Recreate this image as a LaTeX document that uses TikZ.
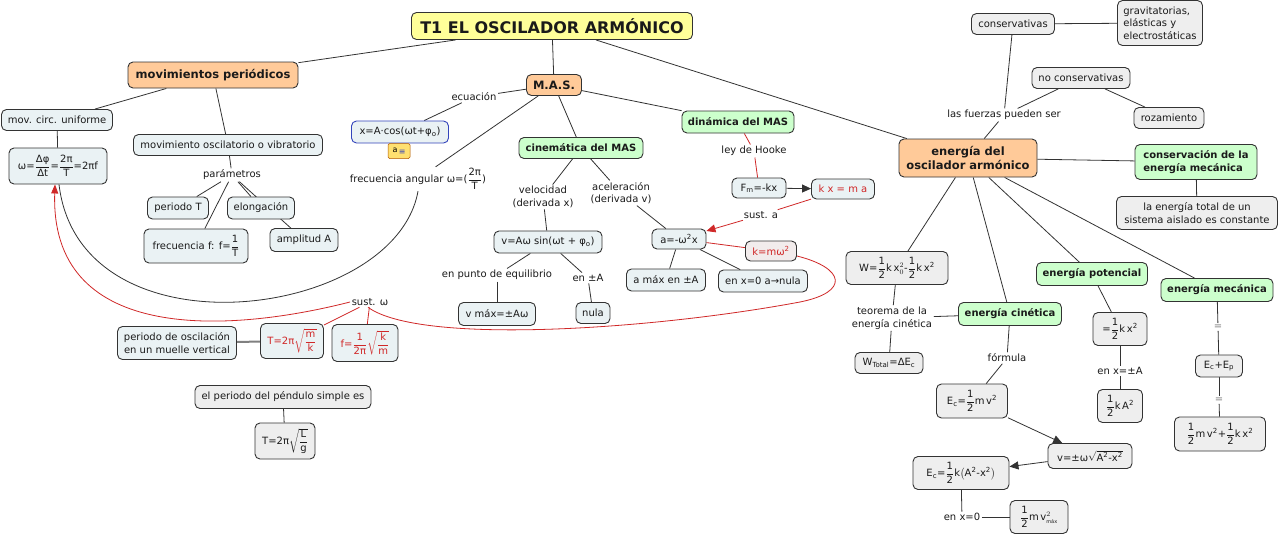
\documentclass[tikz,border=0pt]{standalone}
\usepackage{fontspec}
\setmainfont{DejaVu Sans}
\usetikzlibrary{arrows.meta,backgrounds}
\definecolor{yel}{HTML}{FFFF99}
\definecolor{org}{HTML}{FFCA99}
\definecolor{grn}{HTML}{CCFFCC}
\definecolor{blu}{HTML}{EAF2F4}
\definecolor{gry}{HTML}{EEEEEE}
\definecolor{pnk}{HTML}{F2ECEC}
\definecolor{redc}{HTML}{D02828}
\definecolor{bordc}{HTML}{333333}
\definecolor{linec}{HTML}{333333}
\definecolor{bluc}{HTML}{3344BB}
\definecolor{txt}{HTML}{1A1A1A}
\definecolor{noteY}{HTML}{FFE070}
\newcommand{\fr}[2]{$\displaystyle\frac{\hbox{#1}}{\hbox{#2}}$}
\newcommand{\sfr}[2]{$\sqrt{\displaystyle\frac{\hbox{#1}}{\hbox{#2}}}$}
\tikzset{
 box/.style={draw=bordc, line width=0.9pt, rounded corners=5pt, inner sep=0pt, align=center, font=\fontsize{10}{12.5}\selectfont, text=txt},
 bl/.style={box, fill=blu},
 gr/.style={box, fill=gry},
 og/.style={box, fill=org, font=\bfseries\fontsize{11.5}{14}\selectfont},
 gn/.style={box, fill=grn, font=\bfseries\fontsize{10}{12.5}\selectfont},
 lab/.style={inner sep=1.5pt, align=center, font=\fontsize{10}{12.5}\selectfont, text=txt},
 fm/.style={font=\fontsize{10}{12}\selectfont},
 ln/.style={draw=linec, line width=0.8pt},
 rl/.style={draw=redc, line width=0.8pt},
 arr/.style={-{Triangle[length=9pt,width=8pt]}},
}
\begin{document}
\begin{tikzpicture}[x=1pt,y=-1pt]
\useasboundingbox (0,0) rectangle (1280,536);
% title
\node[box, fill=yel, font=\bfseries\fontsize{16}{18}\selectfont, minimum width=281, minimum height=27] (t) at (552,26) {T1 EL OSCILADOR ARMÓNICO};
% left branch
\node[og, minimum width=170, minimum height=26] (mp) at (213,75) {movimientos periódicos};
\node[bl, minimum width=111, minimum height=21] (mcu) at (57,120) {mov. circ. uniforme};
\node[bl, fm, minimum width=98, minimum height=36] (w) at (58,166) {ω=\fr{Δφ}{Δt}=\fr{2π}{T}=2πf};
\node[bl, minimum width=189, minimum height=21] (mov) at (228,145) {movimiento oscilatorio o vibratorio};
\node[lab] (par) at (232,175) {parámetros};
\node[bl, minimum width=61, minimum height=22] (pT) at (178,208) {periodo T};
\node[bl, minimum width=67, minimum height=22] (elo) at (261,208) {elongación};
\node[bl, minimum width=104, minimum height=34] (ff) at (196,246) {frecuencia f: f=\fr{1}{T}};
\node[bl, minimum width=68, minimum height=23] (amp) at (304,240) {amplitud A};
% MAS
\node[og, minimum width=55, minimum height=21] (mas) at (554,85) {M.A.S.};
\node[lab] (ec) at (474,97) {ecuación};
\node[box, fill=blu, draw=bluc, minimum width=97, minimum height=22] (xeq) at (400,132) {x=A·cos(ωt+φ\textsubscript{o})};
\node[fill=noteY, draw=orange!70!black, line width=0.5pt, rounded corners=1.5pt, minimum width=22, minimum height=15, inner sep=0pt, font=\fontsize{8}{8}\selectfont] (note) at (399,151) {\raisebox{2pt}{a}\,\textcolor{bluc}{≡}};
\node[lab] (fa) at (418,179) {frecuencia angular ω=(\fr{2π}{T})};
\node[gn, minimum width=124, minimum height=21] (cin) at (581,148) {cinemática del MAS};
\node[gn, minimum width=112, minimum height=22] (din) at (738,122) {dinámica del MAS};
\node[lab] (vel) at (543,197) {velocidad\\(derivada x)};
\node[lab] (acel) at (621,193) {aceleración\\(derivada v)};
\node[bl, minimum width=108, minimum height=22] (vbox) at (548,242) {v=Aω sin(ωt + φ\textsubscript{o})};
\node[bl, minimum width=54, minimum height=20] (abox) at (679,239) {a=-ω\textsuperscript{2}x};
\node[lab] (epe) at (497,275) {en punto de equilibrio};
\node[lab] (epA) at (588,278) {en ±A};
\node[bl, minimum width=77, minimum height=23] (vmax) at (497,314) {v máx=±Aω};
\node[bl, minimum width=34, minimum height=21] (nula) at (593,313) {nula};
\node[bl, minimum width=79, minimum height=22] (amax) at (666,280) {a máx en ±A};
\node[bl, minimum width=89, minimum height=22] (ex0) at (763,281) {en x=0 a→nula};
\node[box, fill=pnk, text=redc, minimum width=51, minimum height=20] (kmw) at (771,251) {k=mω\textsuperscript{2}};
\node[lab] (lh) at (754,151) {ley de Hooke};
\node[bl, minimum width=54, minimum height=20] (fmk) at (759,188) {F\textsubscript{m}=-kx};
\node[bl, text=redc, minimum width=63, minimum height=20] (kxma) at (843,189) {k x = m a};
\node[lab] (sa) at (761,215) {sust. a};
\node[lab] (sw) at (370,302) {sust. ω};
% bottom left
\node[bl, minimum width=119, minimum height=33] (pom) at (177,343) {periodo de oscilación\\en un muelle vertical};
\node[bl, fm, text=redc, minimum width=63, minimum height=35] (Tm) at (292,341) {T=2π\sfr{m}{k}};
\node[bl, fm, text=redc, minimum width=66, minimum height=37] (fk) at (365,343) {f=\fr{1}{2π}\sfr{k}{m}};
\node[gr, minimum width=176, minimum height=23] (pend) at (283,397) {el periodo del péndulo simple es};
\node[gr, fm, minimum width=60, minimum height=36] (TL) at (285,441) {T=2π\sfr{L}{g}};
% right branch
\node[gr, minimum width=83, minimum height=21] (cons) at (1013,24) {conservativas};
\node[gr, minimum width=85, minimum height=45, align=left] (grav) at (1160,23) {gravitatorias,\\elásticas y\\electrostáticas};
\node[gr, minimum width=98, minimum height=21] (ncons) at (1081,78) {no conservativas};
\node[gr, minimum width=70, minimum height=21] (roz) at (1169,118) {rozamiento};
\node[lab] (lf) at (1004,115) {las fuerzas pueden ser};
\node[og, minimum width=138, minimum height=38] (eo) at (968,158) {energía del\\oscilador armónico};
\node[gn, minimum width=122, minimum height=35, align=left] (cem) at (1196,162) {conservación de la\\energía mecánica};
\node[gr, minimum width=161, minimum height=33] (etot) at (1197,213) {la energía total de un\\sistema aislado es constante};
\node[gr, fm, minimum width=102, minimum height=33] (W) at (897,268) {W=\fr{1}{2}k\,x$^{2}_{0}$-\fr{1}{2}k\,x\textsuperscript{2}};
\node[lab] (teo) at (892,318) {teorema de la\\energía cinética};
\node[gn, minimum width=103, minimum height=23] (ecin) at (1010,314) {energía cinética};
\node[gr, fm, minimum width=68, minimum height=21] (Wt) at (889,363) {W\textsubscript{Total}=ΔE\textsubscript{c}};
\node[lab] (form) at (1007,358) {fórmula};
\node[gr, fm, minimum width=71, minimum height=34] (Ec) at (972,401) {E\textsubscript{c}=\fr{1}{2}m\,v\textsuperscript{2}};
\node[gr, fm, minimum width=84, minimum height=25] (vb) at (1090,456) {v=±ω$\sqrt{\hbox{A\textsuperscript{2}-x\textsuperscript{2}}}$};
\node[gr, fm, minimum width=96, minimum height=33] (Ec2) at (961,473) {E\textsubscript{c}=\fr{1}{2}k$\left(\hbox{A\textsuperscript{2}-x\textsuperscript{2}}\right)$};
\node[lab] (ex) at (962,517) {en x=0};
\node[gr, fm, minimum width=58, minimum height=33] (Em) at (1039,517) {\fr{1}{2}m\,v$^{2}_{\hbox{\tiny máx}}$};
\node[gn, minimum width=111, minimum height=23] (epot) at (1092,274) {energía potencial};
\node[gr, fm, minimum width=54, minimum height=33] (ep1) at (1120,329) {=\fr{1}{2}k\,x\textsuperscript{2}};
\node[lab] (exA) at (1120,371) {en x=±A};
\node[gr, fm, minimum width=45, minimum height=33] (ep2) at (1120,406) {\fr{1}{2}k\,A\textsuperscript{2}};
\node[gn, minimum width=112, minimum height=23] (emec) at (1217,290) {energía mecánica};
\node[lab, text=gray] (eq1) at (1218,327) {=};
\node[gr, fm, minimum width=47, minimum height=22] (ecep) at (1219,366) {E\textsubscript{c}+E\textsubscript{p}};
\node[lab, text=gray] (eq2) at (1219,400) {=};
\node[gr, fm, minimum width=91, minimum height=34] (emf) at (1220,434) {\fr{1}{2}m\,v\textsuperscript{2}+\fr{1}{2}k\,x\textsuperscript{2}};
% connectors
\begin{scope}[on background layer]
\fill[white] (0,0) rectangle (1280,536);
\draw[ln] (t) -- (mp);
\draw[ln] (t) -- (mas);
\draw[ln] (t) -- (eo);
\draw[ln] (mp) -- (mcu);
\draw[ln] (mp) -- (mov);
\draw[ln] (mcu) -- (w);
\draw[ln] (mov) -- (par);
\draw[ln] (par) -- (pT);
\draw[ln] (par) -- (ff);
\draw[ln] (par) -- (elo);
\draw[ln] (par) -- (amp);
\draw[ln] (mas) -- (ec);
\draw[ln] (ec) -- (xeq);
\draw[ln] (mas) -- (fa);
\draw[ln] (mas) -- (cin);
\draw[ln] (mas) -- (din);
\draw[ln] (cin) -- (vel);
\draw[ln] (cin) -- (acel);
\draw[ln] (vel) -- (vbox);
\draw[ln] (acel) -- (abox);
\draw[ln] (vbox) -- (epe);
\draw[ln] (vbox) -- (epA);
\draw[ln] (epe) -- (vmax);
\draw[ln] (epA) -- (nula);
\draw[ln] (abox) -- (amax);
\draw[ln] (abox) -- (ex0);
\draw[rl] (din) -- (lh);
\draw[rl] (lh) -- (fmk);
\draw[ln, arr] (fmk) -- (kxma);
\draw[rl] (kxma) -- (sa);
\draw[rl, arr] (sa) -- (abox);
\draw[rl] (abox) -- (kmw);
\draw[rl] ([yshift=-5pt]kmw.east) .. controls (845,268) and (850,292) .. (800,302) .. controls (650,330) and (420,345) .. ([xshift=-2pt]sw.south);
\draw[rl] (sw) -- (Tm);
\draw[rl] (sw) -- (fk);
\draw[rl, -{Triangle[length=9pt,width=7pt]}] (sw.west) .. controls (220,335) and (50,340) .. ([xshift=-3pt]w.south);
\draw[ln] (fa.south) .. controls (395,320) and (80,360) .. ([xshift=1pt]w.south);
\draw[draw=gray, line width=2pt] (pom) -- (Tm);
\draw[ln] (pend) -- (TL);
\draw[ln] (eo) -- (lf);
\draw[ln] (lf) -- (cons);
\draw[ln] (lf) -- (ncons);
\draw[ln] (ncons) -- (roz);
\draw[ln] (cons) -- (grav);
\draw[ln] (eo) -- (cem);
\draw[ln] (cem) -- (etot);
\draw[ln] (eo) -- (W);
\draw[ln] (eo) -- (ecin);
\draw[ln] (eo) -- (epot);
\draw[ln] (eo) -- (emec);
\draw[ln] (W) -- (teo);
\draw[ln] (teo) -- (Wt);
\draw[ln] (ecin) -- (teo);
\draw[ln] (ecin) -- (form);
\draw[ln] (form) -- (Ec);
\draw[ln, arr] (Ec) -- (vb);
\draw[ln, arr] (vb) -- (Ec2);
\draw[ln] (Ec2) -- (ex);
\draw[ln] (ex) -- (Em);
\draw[ln] (epot) -- (ep1);
\draw[ln] (ep1) -- (exA);
\draw[ln] (exA) -- (ep2);
\draw[ln] (emec) -- (eq1);
\draw[ln] (eq1) -- (ecep);
\draw[ln] (ecep) -- (eq2);
\draw[ln] (eq2) -- (emf);
\end{scope}
\end{tikzpicture}
\end{document}
